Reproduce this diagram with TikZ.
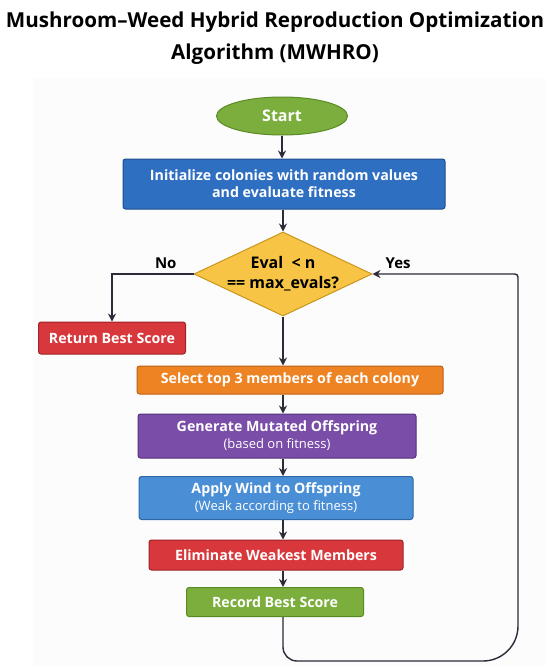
\documentclass[tikz,border=0pt]{standalone}
\usepackage{fontspec}
\setmainfont{Open Sans}
\usetikzlibrary{shapes.geometric,arrows.meta}
\definecolor{linecol}{HTML}{2B2B3A}
\definecolor{startfill}{HTML}{7BAE3C}
\definecolor{startdraw}{HTML}{5A8A26}
\definecolor{initfill}{HTML}{2F6FC2}
\definecolor{initdraw}{HTML}{1F4E8E}
\definecolor{decfill}{HTML}{F7C445}
\definecolor{decdraw}{HTML}{C9961E}
\definecolor{redfill}{HTML}{D8383C}
\definecolor{reddraw}{HTML}{9E2226}
\definecolor{selfill}{HTML}{EE8324}
\definecolor{seldraw}{HTML}{BF6015}
\definecolor{genfill}{HTML}{7A4DA8}
\definecolor{gendraw}{HTML}{53307C}
\definecolor{windfill}{HTML}{4A8FD6}
\definecolor{winddraw}{HTML}{2D67A8}

\begin{document}
\begin{tikzpicture}[x=1pt,y=-1pt]
    \tikzstyle{box}=[draw,line width=1pt,rounded corners=2.5pt,text=white,
        align=center,inner sep=0pt,font=\bfseries\fontsize{14.2}{17}\selectfont]
    \tikzstyle{arr}=[line width=1.4pt,draw=linecol,-{Stealth[length=8pt,width=8pt]}]
    \tikzstyle{lbl}=[font=\bfseries\fontsize{15}{17}\selectfont]
    \newcommand{\sub}[1]{{\mdseries\fontsize{13}{15}\selectfont #1}}
    \useasboundingbox (0,0) rectangle (550,667);
    % Background and title
    \fill[black!1] (33,78) rectangle (546,666);
    \node[font=\bfseries\fontsize{20.6}{32}\selectfont,align=center] (title) at (275,38)
        {Mushroom--Weed Hybrid Reproduction Optimization\\Algorithm (MWHRO)};
    % Nodes
    \node[box,ellipse,fill=startfill,draw=startdraw,minimum width=131,minimum height=38,
        font=\bfseries\fontsize{16}{18}\selectfont] (start) at (282,116) {Start};
    \node[box,fill=initfill,draw=initdraw,minimum width=322,minimum height=50]
        (init) at (284,184) {Initialize colonies with random values\\and evaluate fitness};
    \node[box,diamond,aspect=2.1,rounded corners=0pt,fill=decfill,draw=decdraw,
        minimum width=178,minimum height=84,
        label={[align=center,font=\bfseries\fontsize{16}{20}\selectfont]center:Eval \ < n\\== max\_evals?}]
        (eval) at (283,274) {};
    \node[box,fill=redfill,draw=reddraw,minimum width=147,minimum height=32]
        (ret) at (112,338) {Return Best Score};
    \node[box,fill=selfill,draw=seldraw,minimum width=306,minimum height=28]
        (sel) at (290,380) {Select top 3 members of each colony};
    \node[box,fill=genfill,draw=gendraw,minimum width=278,minimum height=44]
        (gen) at (277,436) {Generate Mutated Offspring\\\sub{(based on fitness)}};
    \node[box,fill=windfill,draw=winddraw,minimum width=274,minimum height=43]
        (wind) at (276,498) {Apply Wind to Offspring\\\sub{(Weak according to fitness)}};
    \node[box,fill=redfill,draw=reddraw,minimum width=254,minimum height=30]
        (elim) at (276,555) {Eliminate Weakest Members};
    \node[box,fill=startfill,draw=startdraw,minimum width=177,minimum height=29]
        (rec) at (275,602) {Record Best Score};
    \coordinate (loopl) at (283,647);
    \coordinate (loopr) at (483,661);
    \coordinate (loopt) at (518,277);
    % Arrows
    \draw[arr] (start) -- (init.north -| start);
    \draw[arr] (init.south -| eval) -- (eval);
    \draw[arr] (eval) -- (sel.north -| eval);
    \draw[arr] (sel.south -| eval) -- (gen.north -| eval);
    \draw[arr] (gen.south -| eval) -- (wind.north -| eval);
    \draw[arr] (wind.south -| eval) -- (elim.north -| eval);
    \draw[arr] (elim.south -| eval) -- (rec.north -| eval);
    \draw[arr] (eval.west) -| node[pos=0.17,above=1pt,lbl] {No} (ret.north);
    \draw[arr] (rec.south -| eval) -- (loopl) arc[start angle=180,end angle=90,radius=14]
        -- (loopr) arc[start angle=90,end angle=0,radius=35]
        -- (loopt) arc[start angle=0,end angle=-90,radius=3] -- (eval.east)
        node[pos=0.82,above=1pt,lbl] {Yes};
\end{tikzpicture}
\end{document}
